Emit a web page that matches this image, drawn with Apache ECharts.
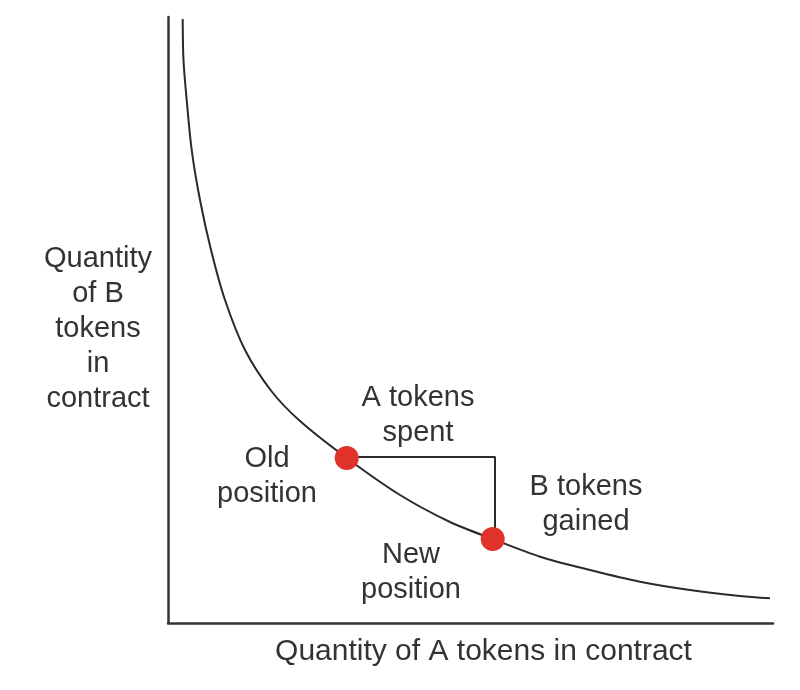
<!DOCTYPE html>
<html>
<head>
<meta charset="utf-8">
<script src="https://cdn.jsdelivr.net/npm/echarts@6/dist/echarts.min.js"></script>
<style>
  html, body { margin: 0; padding: 0; background: #fff; }
  #chart { width: 800px; height: 690px; }
</style>
</head>
<body>
<div id="chart"></div>
<script>
// curve (A quantity, B quantity), axes run 0..100
const curveA = [2.43, 2.56, 3.09, 3.92, 5.29, 7.11, 9.42, 12.73, 17.14, 21.82, 29.54, 38.35, 46.61, 53.67, 61.49, 69.75, 78.02, 86.28, 94.55, 99.5]
const curveB = [99.67, 92.9, 86.3, 78.05, 69.8, 61.55, 53.3, 45.05, 38.2, 33.33, 27.23, 21.12, 16.67, 13.86, 10.94, 8.75, 6.82, 5.45, 4.46, 4.08]
// old and new positions
const positionA = [29.54, 53.67]
const positionB = [27.23, 13.86]
// the step between them
const stepA = [29.54, 54.05, 54.05]
const stepB = [27.39, 27.39, 13.86]

const xAxisTitle = 'Quantity of A tokens in contract'
const yAxisTitle = 'Quantity\nof B\ntokens\nin\ncontract'

const font = '"Liberation Sans", Arial, sans-serif'
const textColor = '#333'

const chart = echarts.init(document.getElementById('chart'))

const zip = (xs, ys) => xs.map((x, i) => [x, ys[i]])

const note = (text, x, y) => ({
  type: 'text',
  x: x,
  y: y,
  style: {
    text: text,
    fill: textColor,
    font: '29px ' + font,
    lineHeight: 35,
    align: 'center',
    verticalAlign: 'middle'
  }
})

chart.setOption({
  animation: false,
  grid: {
    left: 168,
    top: 17,
    width: 605,
    height: 606
  },
  xAxis: {
    type: 'value',
    min: 0,
    max: 100,
    name: xAxisTitle,
    nameLocation: 'middle',
    nameGap: 14,
    nameTextStyle: { color: textColor, fontSize: 30, fontFamily: font, padding: [0, 0, 0, 26] },
    axisLine: { show: true, lineStyle: { color: '#333', width: 2.5 } },
    axisTick: { show: false },
    axisLabel: { show: false },
    splitLine: { show: false }
  },
  yAxis: {
    type: 'value',
    min: 0,
    max: 100,
    axisLine: { show: true, lineStyle: { color: '#333', width: 2.5 } },
    axisTick: { show: false },
    axisLabel: { show: false },
    splitLine: { show: false }
  },
  series: [
    {
      type: 'line',
      data: zip(curveA, curveB),
      smooth: 0.3,
      showSymbol: false,
      lineStyle: { color: '#2a2a2a', width: 2 },
      z: 2
    },
    {
      type: 'line',
      data: zip(stepA, stepB),
      showSymbol: false,
      lineStyle: { color: '#2a2a2a', width: 2 },
      z: 2
    },
    {
      type: 'scatter',
      data: zip(positionA, positionB),
      symbolSize: 24,
      itemStyle: { color: '#e0322b', opacity: 1 },
      z: 3
    }
  ],
  graphic: [
    note(yAxisTitle, 98, 329),
    note('A tokens\nspent', 418, 415),
    note('Old\nposition', 267, 476),
    note('B tokens\ngained', 586, 504),
    note('New\nposition', 411, 572)
  ]
})
</script>
</body>
</html>
